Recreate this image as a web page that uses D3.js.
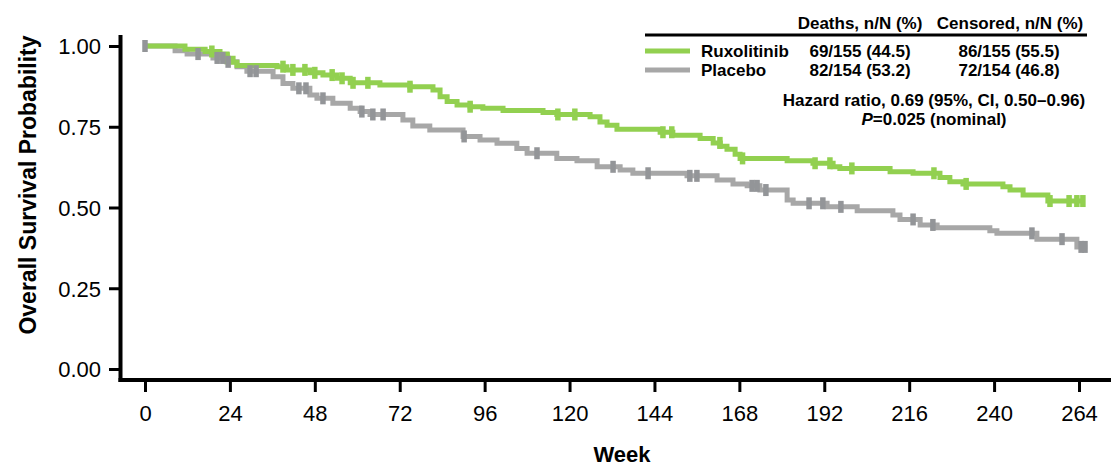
<!DOCTYPE html>
<html>
<head>
<meta charset="utf-8">
<script src="https://cdn.jsdelivr.net/npm/d3@7"></script>
<style>
  html, body { margin: 0; padding: 0; background: #fff; }
  svg { display: block; font-family: "Liberation Sans", Arial, Helvetica, sans-serif; }
</style>
</head>
<body>
<svg id="chart" width="1111" height="467"></svg>
<script>
// ---- Data ----
const xTicks = [0, 24, 48, 72, 96, 120, 144, 168, 192, 216, 240, 264];
const yTicks = [0, 0.25, 0.5, 0.75, 1.0];

// Ruxolitinib KM steps (week, survival)
const ruxWeeks = [0, 11.3, 17.0, 21.2, 23.2, 24.9, 26.0, 37.3, 40.1, 46.6, 50.3, 54.3, 58.0, 66.4, 74.9, 81.4, 83.4, 85.4, 88.2, 91.9, 95.5, 101.2, 112.5, 116.4, 125.8, 128.6, 130.6, 133.4, 145.6, 149.2, 156.9, 160.6, 162.6, 164.5, 166.8, 168.2, 181.5, 188.8, 194.5, 196.4, 210.6, 217.1, 224.7, 227.5, 231.2, 242.5, 244.5, 248.2, 255.2, 265.7];
const ruxSurv  = [1.0, 0.99, 0.983, 0.975, 0.962, 0.95, 0.94, 0.936, 0.926, 0.917, 0.910, 0.900, 0.886, 0.879, 0.874, 0.864, 0.843, 0.828, 0.817, 0.812, 0.807, 0.800, 0.794, 0.788, 0.781, 0.765, 0.755, 0.742, 0.733, 0.724, 0.714, 0.700, 0.690, 0.680, 0.665, 0.652, 0.645, 0.637, 0.626, 0.621, 0.611, 0.606, 0.593, 0.580, 0.573, 0.564, 0.554, 0.539, 0.520, 0.520];
const ruxCensor = [18.9, 23.2, 39.0, 41.8, 45.2, 48.0, 52.9, 55.7, 58.8, 63.0, 74.9, 91.9, 116.7, 121.5, 146.4, 148.9, 162.5, 168.9, 189.4, 193.6, 199.8, 223.0, 232.1, 255.8, 261.2, 263.4, 265.1];

// Placebo KM steps (week, survival)
const plaWeeks = [0, 8.5, 11.9, 19.2, 23.2, 26.0, 28.8, 36.2, 39.0, 41.8, 46.6, 48.6, 53.1, 58.0, 60.8, 63.6, 72.9, 75.7, 80.5, 89.9, 94.7, 99.5, 105.1, 108.0, 116.4, 122.1, 127.8, 134.3, 137.9, 153.2, 161.7, 166.2, 170.2, 173.8, 181.5, 183.2, 192.8, 201.3, 211.4, 213.4, 219.1, 223.9, 238.8, 240.8, 252.1, 263.4, 266.3];
const plaSurv  = [1.0, 0.985, 0.975, 0.963, 0.951, 0.936, 0.922, 0.905, 0.884, 0.869, 0.848, 0.838, 0.823, 0.807, 0.797, 0.788, 0.771, 0.752, 0.740, 0.720, 0.709, 0.699, 0.683, 0.668, 0.652, 0.645, 0.626, 0.616, 0.606, 0.598, 0.585, 0.573, 0.567, 0.554, 0.523, 0.513, 0.502, 0.490, 0.477, 0.463, 0.446, 0.437, 0.428, 0.420, 0.402, 0.378, 0.378];
const plaCensor = [0, 15.0, 20.4, 22.0, 23.5, 29.7, 31.4, 43.5, 45.5, 50.3, 61.3, 64.4, 67.3, 90.2, 110.8, 132.3, 142.2, 154.0, 156.0, 171.6, 173.0, 175.5, 187.7, 191.6, 196.7, 217.1, 222.7, 250.7, 259.2, 264.6, 265.7];

const legendRows = ["Ruxolitinib", "Placebo"];
const deathsText = ["69/155 (44.5)", "82/154 (53.2)"];
const censoredText = ["86/155 (55.5)", "72/154 (46.8)"];

// ---- Styles ----
const GREEN = "#92d050";
const GRAY_LINE = "#a7a7a7";
const GRAY_MARK = "#939598";

const svg = d3.select("#chart");
const x = d3.scaleLinear().domain([0, 264]).range([145, 1079]);
const y = d3.scaleLinear().domain([0, 1]).range([369, 46]);

// Axis lines (offset from plotting area)
svg.append("line").attr("x1", 120.5).attr("x2", 120.5).attr("y1", 35).attr("y2", 382)
  .attr("stroke", "#000").attr("stroke-width", 4);
svg.append("line").attr("x1", 118.5).attr("x2", 1111).attr("y1", 380).attr("y2", 380)
  .attr("stroke", "#000").attr("stroke-width", 4);

// Y axis
const gy = svg.append("g").attr("transform", "translate(120,0)")
  .call(d3.axisLeft(y).tickValues(yTicks).tickFormat(d3.format(".2f")).tickSize(11).tickPadding(8));
gy.select(".domain").remove();
gy.selectAll(".tick line").attr("stroke", "#000").attr("stroke-width", 3);
gy.selectAll(".tick text").attr("font-size", 22).attr("fill", "#000")
  .attr("font-family", "Liberation Sans, Arial, sans-serif").attr("dy", "0.36em");

// X axis
const gx = svg.append("g").attr("transform", "translate(0,380)")
  .call(d3.axisBottom(x).tickValues(xTicks).tickSize(12));
gx.select(".domain").remove();
gx.selectAll(".tick line").attr("stroke", "#000").attr("stroke-width", 3);
gx.selectAll(".tick text").attr("font-size", 22).attr("fill", "#000")
  .attr("font-family", "Liberation Sans, Arial, sans-serif").attr("y", 33).attr("dy", "0.36em");

// Axis titles
svg.append("text").attr("x", 622).attr("y", 462).attr("text-anchor", "middle")
  .attr("font-size", 22).attr("font-weight", "bold").text("Week");
svg.append("text").attr("transform", "translate(36,185) rotate(-90)").attr("text-anchor", "middle")
  .attr("font-size", 23).attr("font-weight", "bold").text("Overall Survival Probability");

// KM step curves
const line = d3.line().x(d => x(d[0])).y(d => y(d[1])).curve(d3.curveStepAfter);
const ruxData = ruxWeeks.map((w, i) => [w, ruxSurv[i]]);
const plaData = plaWeeks.map((w, i) => [w, plaSurv[i]]);

function survAt(weeks, surv, t) {
  let v = surv[0];
  for (let i = 0; i < weeks.length; i++) { if (weeks[i] <= t) v = surv[i]; else break; }
  return v;
}

svg.append("path").datum(plaData).attr("d", line).attr("fill", "none")
  .attr("stroke", GRAY_LINE).attr("stroke-width", 5);
svg.append("path").datum(ruxData).attr("d", line).attr("fill", "none")
  .attr("stroke", GREEN).attr("stroke-width", 5);

// Censor marks
const markW = 5.5, markH = 12;
svg.append("g").selectAll("rect").data(ruxCensor).join("rect")
  .attr("x", d => x(d) - markW / 2).attr("y", d => y(survAt(ruxWeeks, ruxSurv, d)) - markH / 2)
  .attr("width", markW).attr("height", markH).attr("fill", GREEN);
svg.append("g").selectAll("rect").data(plaCensor).join("rect")
  .attr("x", d => x(d) - markW / 2).attr("y", d => y(survAt(plaWeeks, plaSurv, d)) - markH / 2)
  .attr("width", markW).attr("height", markH).attr("fill", GRAY_MARK);

// Legend
const lg = svg.append("g").attr("font-size", 17).attr("font-weight", "bold").attr("fill", "#000");
lg.append("text").attr("x", 860).attr("y", 29).attr("text-anchor", "middle").text("Deaths, n/N (%)");
lg.append("text").attr("x", 1010).attr("y", 29).attr("text-anchor", "middle").text("Censored, n/N (%)");
lg.append("line").attr("x1", 645).attr("x2", 1087).attr("y1", 35).attr("y2", 35)
  .attr("stroke", "#000").attr("stroke-width", 3);
const rowY = [57, 76];
const swatchCol = [GREEN, GRAY_LINE];
legendRows.forEach((name, i) => {
  lg.append("line").attr("x1", 645).attr("x2", 690).attr("y1", rowY[i] - 6).attr("y2", rowY[i] - 6)
    .attr("stroke", swatchCol[i]).attr("stroke-width", 5);
  lg.append("text").attr("x", 701).attr("y", rowY[i]).text(name);
  lg.append("text").attr("x", 860).attr("y", rowY[i]).attr("text-anchor", "middle").text(deathsText[i]);
  lg.append("text").attr("x", 1009).attr("y", rowY[i]).attr("text-anchor", "middle").text(censoredText[i]);
});
lg.append("text").attr("x", 934).attr("y", 106).attr("text-anchor", "middle")
  .text("Hazard ratio, 0.69 (95%, CI, 0.50\u20130.96)");
const pt = lg.append("text").attr("x", 934).attr("y", 125).attr("text-anchor", "middle");
pt.append("tspan").attr("font-style", "italic").text("P");
pt.append("tspan").text("=0.025 (nominal)");
</script>
</body>
</html>
